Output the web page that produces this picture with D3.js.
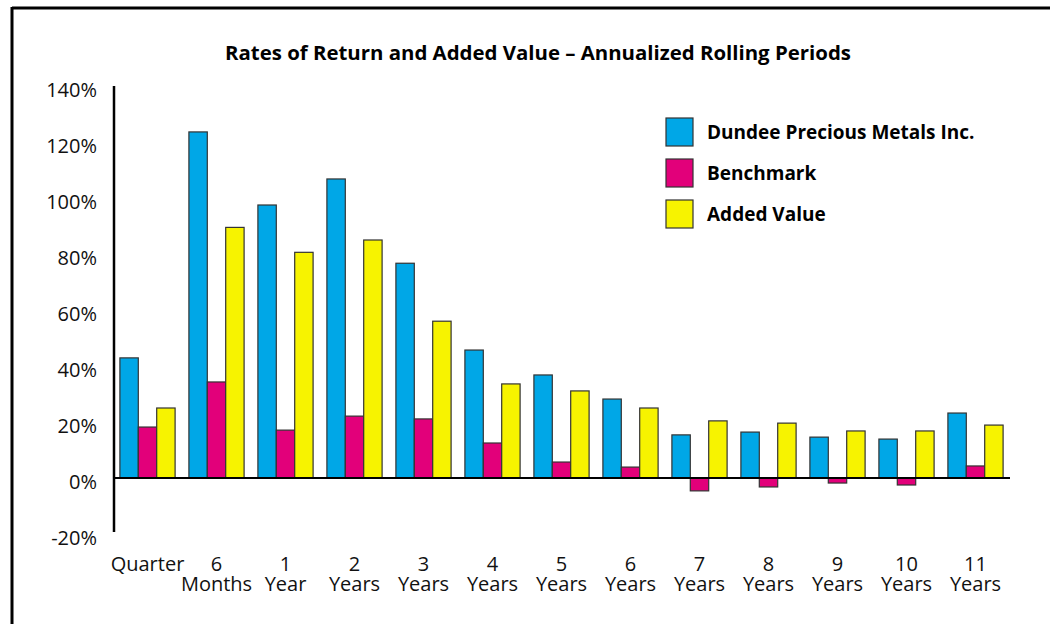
<!DOCTYPE html>
<html>
<head>
<meta charset="utf-8">
<script src="https://cdn.jsdelivr.net/npm/d3@7"></script>
<style>
  body { margin: 0; background: #fff; }
  text { font-family: "Open Sans", "DejaVu Sans", sans-serif; }
</style>
</head>
<body>
<svg id="chart" width="1050" height="624"></svg>
<script>
// periods on the x axis (two text lines each)
let periods = [["Quarter", ""], ["6", "Months"], ["1", "Year"], ["2", "Years"], ["3", "Years"],
               ["4", "Years"], ["5", "Years"], ["6", "Years"], ["7", "Years"], ["8", "Years"],
               ["9", "Years"], ["10", "Years"], ["11", "Years"]];

let seriesNames = ["Dundee Precious Metals Inc.", "Benchmark", "Added Value"];

let fund      = [42.9, 123.6, 97.5, 106.8, 76.7, 45.7, 36.8, 28.2, 15.4, 16.4, 14.6, 13.9, 23.2];
let benchmark = [18.2, 34.3, 17.1, 22.1, 21.1, 12.5, 5.7, 3.9, -4.6, -3.2, -1.8, -2.5, 4.3];
let added     = [25.0, 89.5, 80.6, 85.0, 56.0, 33.6, 31.1, 25.0, 20.4, 19.6, 16.8, 16.8, 18.9];

let yTicks = [140, 120, 100, 80, 60, 40, 20, 0, -20];

let colours = ["#00a7e7", "#e2007a", "#f7f300"];

window.onload = function() {
  setupChart();
}

function setupChart() {
  let svg = d3.select('#chart');

  // frame lines (top and left)
  svg.append('line').attr('x1', 12).attr('x2', 1050).attr('y1', 8).attr('y2', 8)
    .style('stroke', '#000').style('stroke-width', 3);
  svg.append('line').attr('x1', 12).attr('x2', 12).attr('y1', 7).attr('y2', 624)
    .style('stroke', '#000').style('stroke-width', 3);

  svg.append('text')
    .attr('x', 538).attr('y', 60)
    .attr('text-anchor', 'middle')
    .style('font-size', '20.4px').style('font-weight', 'bold')
    .text('Rates of Return and Added Value \u2013 Annualized Rolling Periods');

  let y = d3.scaleLinear().domain([-20, 140]).range([534, 86]);

  let x0 = d3.scaleBand()
    .domain(d3.range(periods.length))
    .range([113, 1010])
    .paddingInner(0.2)
    .paddingOuter(0.1);

  let x1 = d3.scaleBand()
    .domain(d3.range(3))
    .range([0, x0.bandwidth()]);

  // y tick labels
  svg.selectAll('.ylab')
    .data(yTicks)
    .enter().append('text')
    .attr('class', 'ylab')
    .attr('x', 97)
    .attr('y', d => y(d) + 10.5)
    .attr('text-anchor', 'end')
    .style('font-size', '20px')
    .style('fill', '#111')
    .text(d => d + '%');

  let rows = periods.map((p, i) => [fund[i], benchmark[i], added[i]]);

  let groups = svg.selectAll('.grp')
    .data(rows)
    .enter().append('g')
    .attr('class', 'grp')
    .attr('transform', (d, i) => 'translate(' + x0(i) + ',0)');

  groups.selectAll('rect')
    .data(d => d)
    .enter().append('rect')
    .attr('x', (d, j) => x1(j))
    .attr('width', x1.bandwidth())
    .attr('y', d => y(Math.max(0, d)))
    .attr('height', d => Math.abs(y(d) - y(0)))
    .style('fill', (d, j) => colours[j])
    .style('stroke', '#333')
    .style('stroke-width', 1.2);

  // zero line and y axis
  svg.append('line').attr('x1', 113).attr('x2', 1010).attr('y1', y(0)).attr('y2', y(0))
    .style('stroke', '#000').style('stroke-width', 2);
  svg.append('line').attr('x1', 114).attr('x2', 114).attr('y1', 86).attr('y2', 532)
    .style('stroke', '#000').style('stroke-width', 2.5);

  // x labels, first and second line
  svg.selectAll('.xlab1')
    .data(periods)
    .enter().append('text')
    .attr('class', 'xlab1')
    .attr('x', (d, i) => x0(i) + x0.bandwidth() / 2)
    .attr('y', 571)
    .attr('text-anchor', 'middle')
    .style('font-size', '20px')
    .style('fill', '#111')
    .text(d => d[0]);
  svg.selectAll('.xlab2')
    .data(periods.filter(d => d[1] !== ''))
    .enter().append('text')
    .attr('class', 'xlab2')
    .attr('x', (d, i) => x0(i + 1) + x0.bandwidth() / 2)
    .attr('y', 591)
    .attr('text-anchor', 'middle')
    .style('font-size', '20px')
    .style('fill', '#111')
    .text(d => d[1]);

  // legend
  let legend = svg.selectAll('.leg')
    .data(seriesNames)
    .enter().append('g')
    .attr('class', 'leg')
    .attr('transform', (d, i) => 'translate(666,' + (118 + i * 41) + ')');
  legend.append('rect')
    .attr('width', 27).attr('height', 28)
    .style('fill', (d, i) => colours[i])
    .style('stroke', '#333').style('stroke-width', 1.2);
  legend.append('text')
    .attr('x', 41).attr('y', 21)
    .style('font-size', '19px').style('font-weight', 'bold')
    .text(d => d);
}
</script>
</body>
</html>
